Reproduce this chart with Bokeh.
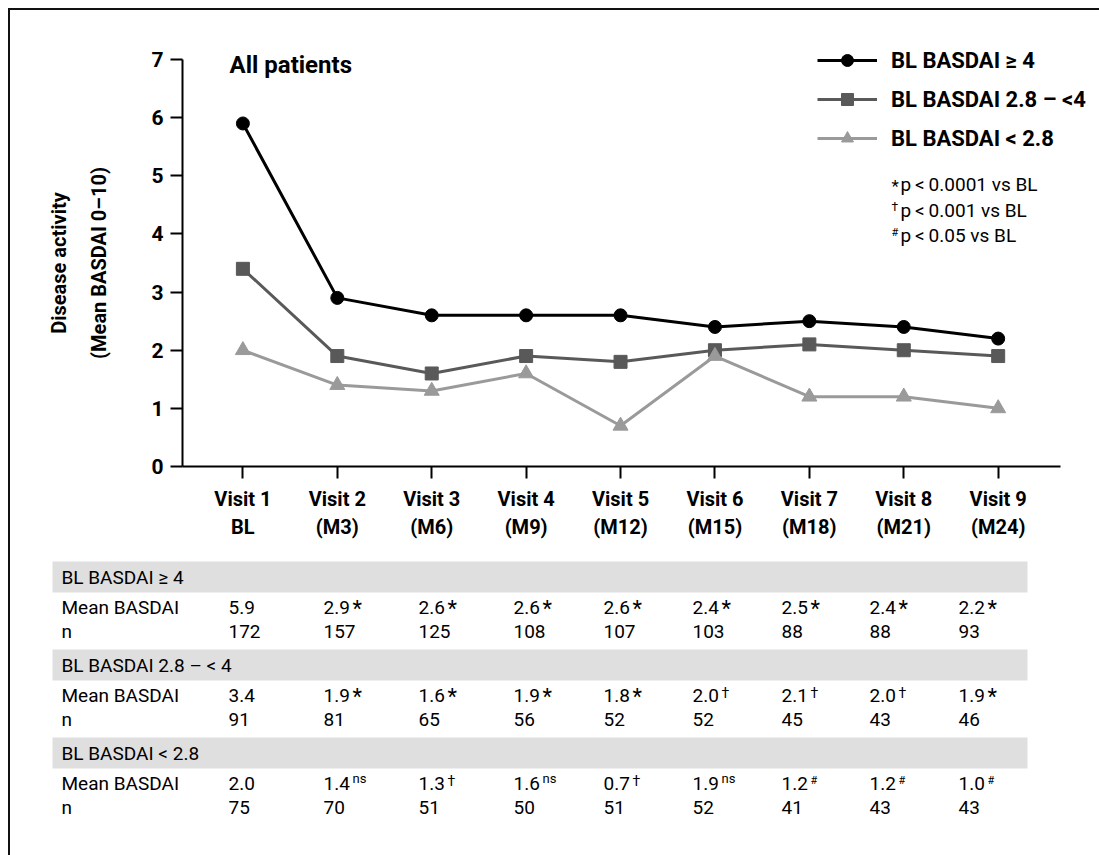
from bokeh.plotting import figure
from bokeh.models import Range1d, FixedTicker, Legend, LegendItem, Label
from bokeh.layouts import column
from bokeh.embed import file_html
from bokeh.resources import INLINE
from bokeh.core.properties import value

FONT = "Roboto"

# ---------------- data ----------------
visits = [1, 2, 3, 4, 5, 6, 7, 8, 9]
visit_labels = ["Visit 1\nBL", "Visit 2\n(M3)", "Visit 3\n(M6)", "Visit 4\n(M9)", "Visit 5\n(M12)",
                "Visit 6\n(M15)", "Visit 7\n(M18)", "Visit 8\n(M21)", "Visit 9\n(M24)"]
series_names = ["BL BASDAI \u2265 4", "BL BASDAI 2.8 \u2013 <4", "BL BASDAI < 2.8"]
table_headers = ["BL BASDAI \u2265 4", "BL BASDAI 2.8 \u2013 < 4", "BL BASDAI < 2.8"]
high = [5.9, 2.9, 2.6, 2.6, 2.6, 2.4, 2.5, 2.4, 2.2]
mid = [3.4, 1.9, 1.6, 1.9, 1.8, 2.0, 2.1, 2.0, 1.9]
low = [2.0, 1.4, 1.3, 1.6, 0.7, 1.9, 1.2, 1.2, 1.0]
high_n = [172, 157, 125, 108, 107, 103, 88, 88, 93]
mid_n = [91, 81, 65, 56, 52, 52, 45, 43, 46]
low_n = [75, 70, 51, 50, 51, 52, 41, 43, 43]
high_sig = ["", "*", "*", "*", "*", "*", "*", "*", "*"]
mid_sig = ["", "*", "*", "*", "*", "\u2020", "\u2020", "\u2020", "*"]
low_sig = ["", "ns", "\u2020", "ns", "\u2020", "ns", "#", "#", "#"]
footnote_marks = ["*", "\u2020", "#"]
footnote_texts = ["p\u2009<\u20090.0001 vs BL", "p\u2009<\u20090.001 vs BL", "p\u2009<\u20090.05 vs BL"]

colors = ["#000000", "#595959", "#9a9a9a"]
markers = ["circle", "square", "triangle"]
msizes = [13, 13, 15]

# ---------------- chart ----------------
# frame spans page x 10..1099, y 10..545; axes pinned at page x 182 / page y 466
PX_X = 94.41
PX_Y = 58.14


def dx(sx):
    return 1 + (sx - 242.4) / PX_X


def dy(sy):
    return (466 - sy) / PX_Y


p = figure(width=1089, height=535,
           x_range=Range1d(dx(10), dx(1099)), y_range=Range1d(dy(545), dy(10)),
           output_backend="svg", toolbar_location=None,
           min_border_left=0, min_border_right=0, min_border_top=0, min_border_bottom=0)
p.outline_line_color = None
p.grid.visible = False

p.xaxis.ticker = FixedTicker(ticks=visits)
p.xaxis.major_label_overrides = {v: l for v, l in zip(visits, visit_labels)}
p.xaxis.bounds = (dx(182), dx(1060))
p.xaxis.fixed_location = 0
p.yaxis.ticker = FixedTicker(ticks=list(range(0, 8)))
p.yaxis.bounds = (0, 7)
p.yaxis.fixed_location = dx(182)
for ax in (p.xaxis, p.yaxis):
    ax.axis_line_width = 2
    ax.axis_line_color = "black"
    ax.major_tick_line_width = 2
    ax.major_tick_line_color = "black"
    ax.major_tick_in = 0
    ax.major_tick_out = 12
    ax.minor_tick_line_color = None
    ax.major_label_text_font = FONT
    ax.major_label_text_font_style = "bold"
    ax.major_label_text_color = "black"
p.xaxis.major_label_text_font_size = "20px"
p.xaxis.major_label_standoff = 8
p.yaxis.major_label_text_font_size = "21px"
p.yaxis.major_label_standoff = 7
p.yaxis.axis_label = "Disease activity\n(Mean BASDAI 0\u201310)"
p.yaxis.axis_label_text_font = FONT
p.yaxis.axis_label_text_font_size = "20px"
p.yaxis.axis_label_text_font_style = "bold"
p.yaxis.axis_label_text_color = "black"
p.yaxis.axis_label_text_line_height = 1.7
p.yaxis.axis_label_standoff = 37

items = []
for name, ys, c, m, s in zip(series_names, [high, mid, low], colors, markers, msizes):
    lr = p.line(visits, ys, line_color=c, line_width=3)
    sr = p.scatter(visits, ys, marker=m, size=s, fill_color=c, line_color=c)
    items.append(LegendItem(label=name, renderers=[lr, sr]))

legend = Legend(items=items, location=(807, 392), orientation="vertical",
                glyph_width=60, glyph_height=30, label_height=30, label_standoff=14,
                spacing=9, padding=0, margin=0, border_line_color=None,
                background_fill_alpha=0, label_text_font=FONT,
                label_text_font_size="22px", label_text_font_style="bold",
                label_text_color="black")
p.add_layout(legend)

p.add_layout(Label(x=dx(229), y=dy(64), text="All patients", text_font=FONT,
                   text_font_size="24px", text_font_style="bold", text_color="black",
                   text_baseline="middle"))

fn_center = [184, 209.5, 234.5]
mark_size = {"*": "17px", "\u2020": "12px", "#": "11px"}
mark_y = {"*": 1, "\u2020": -3, "#": -3}
for mark, txt, cy in zip(footnote_marks, footnote_texts, fn_center):
    p.add_layout(Label(x=dx(891), y=dy(cy + mark_y[mark]), text=mark, text_font=FONT,
                       text_font_size=mark_size[mark], text_color="black",
                       text_baseline="middle"))
    p.add_layout(Label(x=dx(900), y=dy(cy), text=txt, text_font=FONT,
                       text_font_size="19px", text_color="black", text_baseline="middle"))

# ---------------- table ----------------
t = figure(width=1089, height=310, x_range=Range1d(10, 1099), y_range=Range1d(855, 545),
           output_backend="svg", toolbar_location=None, min_border=0,
           x_axis_type=None, y_axis_type=None)
t.outline_line_color = None
t.grid.visible = False

col_x = [228, 323, 418, 513, 603, 692, 781, 869, 958]
band_top = [561, 649, 737]
band_h = 31
row_gap = 24
text_kw = dict(text_font=value(FONT), text_font_size="19px", text_color="black",
               text_baseline="middle")

t.quad(left=[52] * 3, right=[1027] * 3, top=band_top, bottom=[b + band_h for b in band_top],
       fill_color="#dfdfdf", line_color=None)

sup_size = {"*": "22px", "\u2020": "14px", "#": "11px", "ns": "13px"}
sup_dy = {"*": 1, "\u2020": -3, "#": -3.5, "ns": -5.5}   # relative to row centre

for hdr, vals, ns, sigs, bt in zip(table_headers, [high, mid, low], [high_n, mid_n, low_n],
                                     [high_sig, mid_sig, low_sig], band_top):
    hc = bt + band_h / 2
    mc = bt + 46
    nc = mc + row_gap
    t.text(x=[61], y=[hc], text=[hdr], **text_kw)
    t.text(x=[61, 61], y=[mc, nc], text=["Mean BASDAI", "n"], **text_kw)
    t.text(x=col_x, y=[mc] * 9, text=[f"{v:.1f}" for v in vals], **text_kw)
    t.text(x=col_x, y=[nc] * 9, text=[str(n) for n in ns], **text_kw)
    for mk in ["*", "\u2020", "#", "ns"]:
        xs = [c + 29 for c, s in zip(col_x, sigs) if s == mk]
        if xs:
            t.text(x=xs, y=[mc + sup_dy[mk]] * len(xs), text=[mk] * len(xs),
                   text_font=value(FONT), text_font_size=sup_size[mk], text_color="black",
                   text_baseline="middle")

layout = column(p, t, spacing=0,
                styles={"margin-left": "8px", "margin-top": "8px",
                        "border-top": "2px solid #111", "border-left": "2px solid #111"})

open("out.html", "w").write(file_html(layout, INLINE))
